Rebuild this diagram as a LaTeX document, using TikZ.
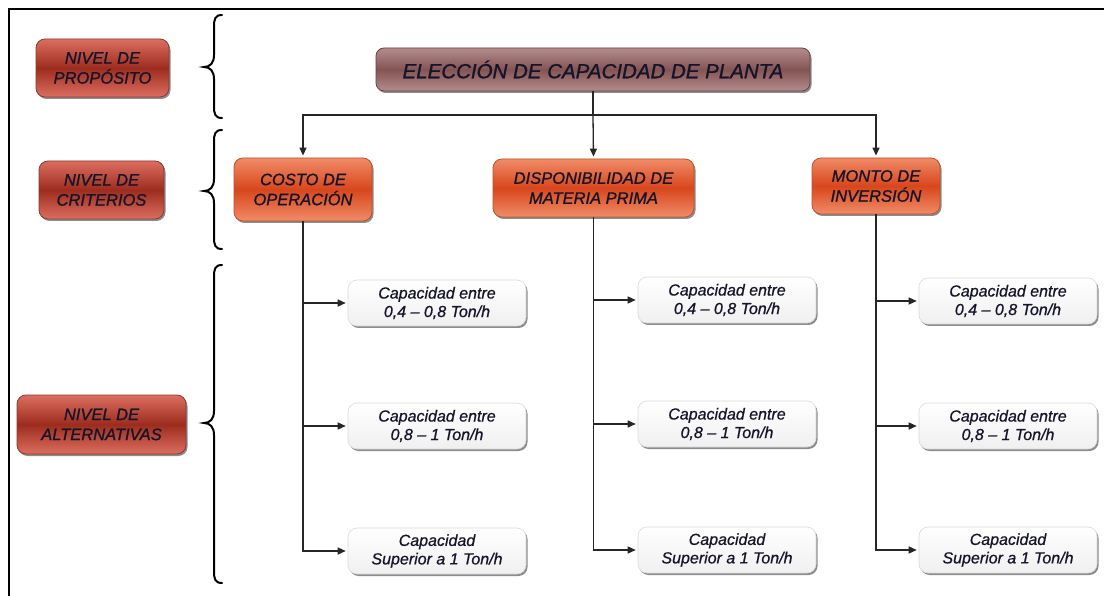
\documentclass[tikz,border=0pt]{standalone}
\usepackage{fontspec}
\setmainfont{Liberation Sans}
\newfontfamily\embfont{Liberation Sans}[FakeBold=1.2]
\newfontfamily\embfontlight{Liberation Sans}[FakeBold=0.7]
\usetikzlibrary{arrows.meta,shadows,calc}
\definecolor{txt}{HTML}{15152A}
\definecolor{lvlEdge}{HTML}{DC6E60}
\definecolor{lvlMid}{HTML}{9C2C1E}
\definecolor{lvlLine}{HTML}{8A3A30}
\definecolor{ttlEdge}{HTML}{B48C8C}
\definecolor{ttlMid}{HTML}{845454}
\definecolor{ttlLine}{HTML}{6A4040}
\definecolor{criEdge}{HTML}{F08C68}
\definecolor{criMid}{HTML}{D8461C}
\definecolor{criLine}{HTML}{C0502A}
\newcommand{\levelbrace}[3]{%
  \draw[line width=2pt,line cap=round]
    (222,#1) .. controls (215,#1) and (214,#1+4) .. (214,#1+12)
    -- (214,#3-12) .. controls (214,#3-4) and (210,#3) .. (204,#3)
    .. controls (210,#3) and (214,#3+4) .. (214,#3+12)
    -- (214,#2-12) .. controls (214,#2-4) and (215,#2) .. (222,#2);}
\begin{document}
\begin{tikzpicture}[x=1pt,y=-1pt,
  every node/.style={font=\embfont\fontsize{16.5}{20}\selectfont\itshape, text=txt, align=center, inner sep=0pt},
  shd/.style={drop shadow={shadow xshift=1.5pt, shadow yshift=-2pt, fill=black, opacity=0.45}},
  lvl/.style={shd, rounded corners=9pt, draw=lvlLine, line width=0.8pt,
    top color=lvlEdge, bottom color=lvlEdge, middle color=lvlMid},
  ttl/.style={shd, rounded corners=8pt, draw=ttlLine, line width=0.8pt,
    top color=ttlEdge, bottom color=ttlEdge, middle color=ttlMid,
    minimum width=434pt, minimum height=43pt, font=\embfont\fontsize{20.5}{24}\selectfont\itshape},
  cri/.style={shd, rounded corners=9pt, draw=criLine, line width=0.8pt,
    top color=criEdge, bottom color=criEdge, middle color=criMid},
  alt/.style={shd, rounded corners=9pt, draw=black!15, line width=0.6pt,
    top color=white, bottom color=black!6, minimum width=178pt, minimum height=46pt,
    font=\embfontlight\fontsize{16}{18.5}\selectfont\itshape},
  conn/.style={line width=1.3pt, draw=black!85},
  arr/.style={conn, -{Triangle[length=8pt,width=7pt]}, shorten >=2pt}
]
\useasboundingbox (0,0) rectangle (1104,596);
% frame
\draw[line width=2.5pt] (9,596) -- (9,9) -- (1104,9);

% level labels
\node[lvl, minimum width=133pt, minimum height=58pt] (lp) at (102.5,68) {NIVEL DE\\PROPÓSITO};
\node[lvl, minimum width=125pt, minimum height=58pt] (lc) at (101.5,190) {NIVEL DE\\CRITERIOS};
\node[lvl, minimum width=169pt, minimum height=59pt] (la) at (101.5,424.5) {NIVEL DE\\ALTERNATIVAS};

% braces
\levelbrace{15}{118}{67}
\levelbrace{130}{249}{191}
\levelbrace{265}{583}{423}

% title
\node[ttl] (t) at (593,69.5) {ELECCIÓN DE CAPACIDAD DE PLANTA};

% criteria
\node[cri, minimum width=138pt, minimum height=63pt] (c1) at (303,189.5) {COSTO DE\\OPERACIÓN};
\node[cri, minimum width=201pt, minimum height=58pt] (c2) at (593.5,188) {DISPONIBILIDAD DE\\MATERIA PRIMA};
\node[cri, minimum width=128pt, minimum height=56pt] (c3) at (876,186) {MONTO DE\\INVERSIÓN};

% alternatives
\node[alt] (a11) at (437,303) {Capacidad entre\\0,4 – 0,8 Ton/h};
\node[alt] (a12) at (437,426) {Capacidad entre\\0,8 – 1 Ton/h};
\node[alt] (a13) at (437,551) {Capacidad\\Superior a 1 Ton/h};
\node[alt] (a21) at (727,300) {Capacidad entre\\0,4 – 0,8 Ton/h};
\node[alt] (a22) at (727,424) {Capacidad entre\\0,8 – 1 Ton/h};
\node[alt] (a23) at (727,550) {Capacidad\\Superior a 1 Ton/h};
\node[alt] (a31) at (1008,301) {Capacidad entre\\0,4 – 0,8 Ton/h};
\node[alt] (a32) at (1008,426) {Capacidad entre\\0,8 – 1 Ton/h};
\node[alt] (a33) at (1008,550) {Capacidad\\Superior a 1 Ton/h};

% connectors from title
\coordinate (hj) at (t.south |- 0,115);
\draw[conn] (t.south) -- (hj);
\draw[arr] (hj) -| (c1.north);
\draw[arr] (hj) -| (c3.north);
\draw[arr] (hj) -- (c2.north);

% connectors to alternatives
\foreach \c in {1,2,3}{
  \draw[arr] (c\c.south) |- (a\c3.west);
  \draw[arr] (c\c.south |- a\c1.west) -- (a\c1.west);
  \draw[arr] (c\c.south |- a\c2.west) -- (a\c2.west);
}
\end{tikzpicture}
\end{document}
